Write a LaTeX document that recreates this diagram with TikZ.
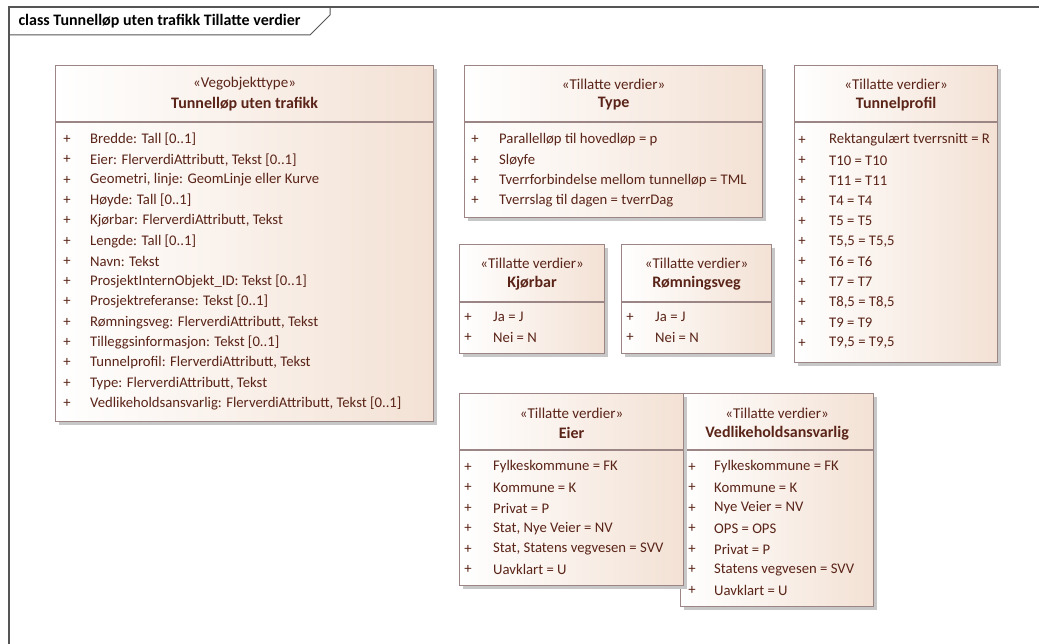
\documentclass[tikz,border=0pt]{standalone}
\usepackage{fontspec}
\setmainfont{Carlito}
\usetikzlibrary{shadows}
\definecolor{umlfill}{HTML}{F3E1D4}
\definecolor{umlline}{HTML}{9C8585}
\definecolor{umltext}{HTML}{5A2418}
\definecolor{framegray}{HTML}{555555}
\tikzset{
  classbox/.style={draw=umlline,line width=1.2pt,left color=white,right color=umlfill,
    drop shadow={shadow xshift=3pt,shadow yshift=-3pt,fill=black!22,opacity=1}},
  sepline/.style={draw=umlline,line width=1.2pt},
  stereo/.style={text=umltext,font=\fontsize{15pt}{17pt}\selectfont},
  clsname/.style={text=umltext,font=\fontsize{16pt}{18pt}\selectfont\bfseries},
  plus/.style={text=umltext,font=\fontsize{14.7pt}{16pt}\selectfont,inner sep=0pt},
  attr/.style={text=umltext,font=\fontsize{14.7pt}{16pt}\selectfont,anchor=west,inner sep=0pt},
}

\begin{document}
\begin{tikzpicture}[x=1pt,y=-1pt]
    \useasboundingbox (0,0) rectangle (1039,644);
    % diagram frame and its tab
    \draw[framegray,line width=1.3pt] (1039,7) -- (9,7) -- (9,644);
    \draw[framegray,line width=1pt] (9,35) -- (310,35) -- (330,15) -- (330,7);
    \node[anchor=west,text=black,font=\fontsize{16pt}{18pt}\selectfont\bfseries] (frametitle) at (15,21) {class Tunnelløp uten trafikk Tillatte verdier};

    %% Vegobjekttype
    \node[classbox,anchor=north west,minimum width=378pt,minimum height=356pt] (tunnellop) at (55,65) {};
    \draw[sepline] ([yshift=-57pt]tunnellop.north west) -- ([yshift=-57pt]tunnellop.north east);
    \node[stereo] (tunnellop-st) at ([yshift=-19pt]tunnellop.north) {«Vegobjekttype»};
    \node[clsname] (tunnellop-nm) at ([yshift=-39pt]tunnellop.north) {Tunnelløp uten trafikk};
    \foreach \txt [count=\i] in {Bredde: Tall [0..1],{Eier: FlerverdiAttributt, Tekst [0..1]},
        Geometri{,} linje: GeomLinje eller Kurve,Høyde: Tall [0..1],{Kjørbar: FlerverdiAttributt, Tekst},
        Lengde: Tall [0..1],Navn: Tekst,ProsjektInternObjekt\_ID: Tekst [0..1],Prosjektreferanse: Tekst [0..1],
        {Rømningsveg: FlerverdiAttributt, Tekst},Tilleggsinformasjon: Tekst [0..1],
        {Tunnelprofil: FlerverdiAttributt, Tekst},{Type: FlerverdiAttributt, Tekst},
        {Vedlikeholdsansvarlig: FlerverdiAttributt, Tekst [0..1]}}{
      \node[plus] (tunnellop-p\i) at ([xshift=12pt,yshift={-(54.2+20.3*\i)*1pt}]tunnellop.north west) {+};
      \node[attr] (tunnellop-a\i) at ([xshift=35pt,yshift={-(54.2+20.3*\i)*1pt}]tunnellop.north west) {\txt};
    }

    %% Type
    \node[classbox,anchor=north west,minimum width=298pt,minimum height=152pt] (type) at (464,65) {};
    \draw[sepline] ([yshift=-57pt]type.north west) -- ([yshift=-57pt]type.north east);
    \node[stereo] (type-st) at ([yshift=-19pt]type.north) {«Tillatte verdier»};
    \node[clsname] (type-nm) at ([yshift=-39pt]type.north) {Type};
    \foreach \txt [count=\i] in {Parallelløp til hovedløp = p,Sløyfe,
        Tverrforbindelse mellom tunnelløp = TML,Tverrslag til dagen = tverrDag}{
      \node[plus] (type-p\i) at ([xshift=11pt,yshift={-(54.5+20.3*\i)*1pt}]type.north west) {+};
      \node[attr] (type-a\i) at ([xshift=35pt,yshift={-(54.5+20.3*\i)*1pt}]type.north west) {\txt};
    }

    %% Tunnelprofil
    \node[classbox,anchor=north west,minimum width=203pt,minimum height=297pt] (tunnelprofil) at (794,65) {};
    \draw[sepline] ([yshift=-57pt]tunnelprofil.north west) -- ([yshift=-57pt]tunnelprofil.north east);
    \node[stereo] (tunnelprofil-st) at ([yshift=-19pt]tunnelprofil.north) {«Tillatte verdier»};
    \node[clsname] (tunnelprofil-nm) at ([yshift=-39pt]tunnelprofil.north) {Tunnelprofil};
    \foreach \txt [count=\i] in {Rektangulært tverrsnitt = R,T10 = T10,T11 = T11,T4 = T4,T5 = T5,
        T5{,}5 = T5{,}5,T6 = T6,T7 = T7,T8{,}5 = T8{,}5,T9 = T9,T9{,}5 = T9{,}5}{
      \node[plus] (tunnelprofil-p\i) at ([xshift=8pt,yshift={-(54.7+20.3*\i)*1pt}]tunnelprofil.north west) {+};
      \node[attr] (tunnelprofil-a\i) at ([xshift=35pt,yshift={-(54.7+20.3*\i)*1pt}]tunnelprofil.north west) {\txt};
    }

    %% Kjørbar
    \node[classbox,anchor=north west,minimum width=145pt,minimum height=109pt] (kjorbar) at (459,244) {};
    \draw[sepline] ([yshift=-58pt]kjorbar.north west) -- ([yshift=-58pt]kjorbar.north east);
    \node[stereo] (kjorbar-st) at ([yshift=-19pt]kjorbar.north) {«Tillatte verdier»};
    \node[clsname] (kjorbar-nm) at ([yshift=-39pt]kjorbar.north) {Kjørbar};
    \foreach \txt [count=\i] in {Ja = J,Nei = N}{
      \node[plus] (kjorbar-p\i) at ([xshift=9pt,yshift={-(52.7+20.5*\i)*1pt}]kjorbar.north west) {+};
      \node[attr] (kjorbar-a\i) at ([xshift=34pt,yshift={-(52.7+20.5*\i)*1pt}]kjorbar.north west) {\txt};
    }

    %% Rømningsveg
    \node[classbox,anchor=north west,minimum width=150pt,minimum height=109pt] (romningsveg) at (621,244) {};
    \draw[sepline] ([yshift=-58pt]romningsveg.north west) -- ([yshift=-58pt]romningsveg.north east);
    \node[stereo] (romningsveg-st) at ([yshift=-19pt]romningsveg.north) {«Tillatte verdier»};
    \node[clsname] (romningsveg-nm) at ([yshift=-39pt]romningsveg.north) {Rømningsveg};
    \foreach \txt [count=\i] in {Ja = J,Nei = N}{
      \node[plus] (romningsveg-p\i) at ([xshift=9pt,yshift={-(52.7+20.5*\i)*1pt}]romningsveg.north west) {+};
      \node[attr] (romningsveg-a\i) at ([xshift=34pt,yshift={-(52.7+20.5*\i)*1pt}]romningsveg.north west) {\txt};
    }

    %% Vedlikeholdsansvarlig (under Eier)
    \node[classbox,anchor=north west,minimum width=193pt,minimum height=213pt] (vedlikehold) at (680,393) {};
    \draw[sepline] ([yshift=-57pt]vedlikehold.north west) -- ([yshift=-57pt]vedlikehold.north east);
    \node[stereo] (vedlikehold-st) at ([yshift=-20pt]vedlikehold.north) {«Tillatte verdier»};
    \node[clsname] (vedlikehold-nm) at ([yshift=-40pt]vedlikehold.north) {Vedlikeholdsansvarlig};
    \foreach \txt [count=\i] in {Fylkeskommune = FK,Kommune = K,Nye Veier = NV,OPS = OPS,Privat = P,
        Statens vegvesen = SVV,Uavklart = U}{
      \node[plus] (vedlikehold-p\i) at ([xshift=12pt,yshift={-(53.5+20.5*\i)*1pt}]vedlikehold.north west) {+};
      \node[attr] (vedlikehold-a\i) at ([xshift=34pt,yshift={-(53.5+20.5*\i)*1pt}]vedlikehold.north west) {\txt};
    }

    %% Eier
    \node[classbox,anchor=north west,minimum width=224pt,minimum height=192pt] (eier) at (459,393) {};
    \draw[sepline] ([yshift=-57pt]eier.north west) -- ([yshift=-57pt]eier.north east);
    \node[stereo] (eier-st) at ([yshift=-20pt]eier.north) {«Tillatte verdier»};
    \node[clsname] (eier-nm) at ([yshift=-40pt]eier.north) {Eier};
    \foreach \txt [count=\i] in {Fylkeskommune = FK,Kommune = K,Privat = P,Stat{,} Nye Veier = NV,
        Stat{,} Statens vegvesen = SVV,Uavklart = U}{
      \node[plus] (eier-p\i) at ([xshift=9pt,yshift={-(53.5+20.5*\i)*1pt}]eier.north west) {+};
      \node[attr] (eier-a\i) at ([xshift=34pt,yshift={-(53.5+20.5*\i)*1pt}]eier.north west) {\txt};
    }
\end{tikzpicture}
\end{document}
